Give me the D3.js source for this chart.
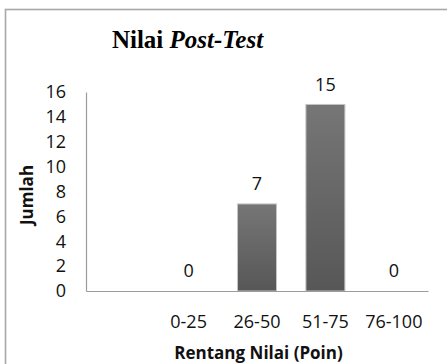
<!DOCTYPE html>
<html>
<head>
<meta charset="utf-8">
<script src="https://cdn.jsdelivr.net/npm/d3@7/dist/d3.min.js"></script>
<style>
  html, body { margin: 0; padding: 0; background: #fff; }
  svg { display: block; }
</style>
</head>
<body>
<svg id="chart" width="447" height="364"></svg>
<script>
// Data
const categories = ["0-25", "26-50", "51-75", "76-100"];
const values = [0, 7, 15, 0];
const yTicks = [0, 2, 4, 6, 8, 10, 12, 14, 16];
const titleMain = "Nilai ";
const titleItalic = "Post-Test";
const yTitle = "Jumlah";
const xTitle = "Rentang Nilai (Poin)";

(function () {
const svg = d3.select("#chart");
const W = 447, H = 364;
const plotLeft = 86, plotRight = 428, plotTop = 92, plotBottom = 291;

// Outer frame
svg.append("rect")
  .attr("x", 5.5).attr("y", 9.5)
  .attr("width", W + 10).attr("height", H + 10)
  .attr("fill", "#fff")
  .attr("stroke", "#a8a8a8")
  .attr("stroke-width", 1.6);

// Gradient for bars
const defs = svg.append("defs");
const grad = defs.append("linearGradient")
  .attr("id", "barGrad").attr("x1", 0).attr("y1", 0).attr("x2", 0).attr("y2", 1);
grad.append("stop").attr("offset", "0%").attr("stop-color", "#767676");
grad.append("stop").attr("offset", "100%").attr("stop-color", "#575757");

// Scales: leading blank category slot as in the source chart
const x = d3.scaleBand()
  .domain([""].concat(categories))
  .range([plotLeft, plotRight])
  .paddingInner(0.43)
  .paddingOuter(0.215);

const y = d3.scaleLinear().domain([0, 16]).range([plotBottom, plotTop]);

const tickFont = "'Open Sans', sans-serif";

// Y axis
const yAxis = svg.append("g")
  .attr("transform", `translate(${plotLeft},0)`)
  .call(d3.axisLeft(y).tickValues(yTicks).tickSize(0).tickSizeOuter(0).tickPadding(20));
yAxis.select(".domain").attr("stroke", "#9c9c9c").attr("stroke-width", 1.2);
yAxis.selectAll("text")
  .attr("font-family", tickFont).attr("font-size", 18).attr("fill", "#111");

// Bars
svg.append("g").selectAll("rect")
  .data(categories.map((c, i) => ({ c, v: values[i] })))
  .join("rect")
  .attr("x", d => x(d.c))
  .attr("y", d => y(d.v))
  .attr("width", x.bandwidth())
  .attr("height", d => y(0) - y(d.v))
  .attr("fill", "url(#barGrad)")
  .attr("stroke", d => d.v > 0 ? "#c4c4c4" : "none")
  .attr("stroke-width", 1);

// X axis
const xAxis = svg.append("g")
  .attr("transform", `translate(0,${plotBottom})`)
  .call(d3.axisBottom(x).tickValues(categories).tickSize(0).tickSizeOuter(0).tickPadding(24));
xAxis.select(".domain").attr("stroke", "#9c9c9c").attr("stroke-width", 1.2);
xAxis.selectAll("text")
  .attr("font-family", tickFont).attr("font-size", 18).attr("fill", "#111");

// Data labels
svg.append("g").selectAll("text")
  .data(categories.map((c, i) => ({ c, v: values[i] })))
  .join("text")
  .attr("x", d => x(d.c) + x.bandwidth() / 2)
  .attr("y", d => y(d.v) - 20)
  .attr("dy", "0.35em")
  .attr("text-anchor", "middle")
  .attr("font-family", tickFont).attr("font-size", 18).attr("fill", "#111")
  .text(d => d.v);

// Title
const t = svg.append("text")
  .attr("x", 187.5).attr("y", 48)
  .attr("text-anchor", "middle")
  .attr("font-family", "'Liberation Serif', 'Times New Roman', serif")
  .attr("font-weight", "bold")
  .attr("font-size", 25)
  .attr("fill", "#000");
t.append("tspan").text(titleMain);
t.append("tspan").attr("font-style", "italic").text(titleItalic);

// Axis titles
svg.append("text")
  .attr("transform", "translate(27,195) rotate(-90)")
  .attr("dy", "0.35em")
  .attr("text-anchor", "middle")
  .attr("font-family", tickFont).attr("font-weight", "bold").attr("font-size", 17)
  .attr("fill", "#111")
  .text(yTitle);

svg.append("text")
  .attr("x", 258.5).attr("y", 359)
  .attr("text-anchor", "middle")
  .attr("font-family", tickFont).attr("font-weight", "bold").attr("font-size", 17)
  .attr("fill", "#111")
  .text(xTitle);
})();
</script>
</body>
</html>
